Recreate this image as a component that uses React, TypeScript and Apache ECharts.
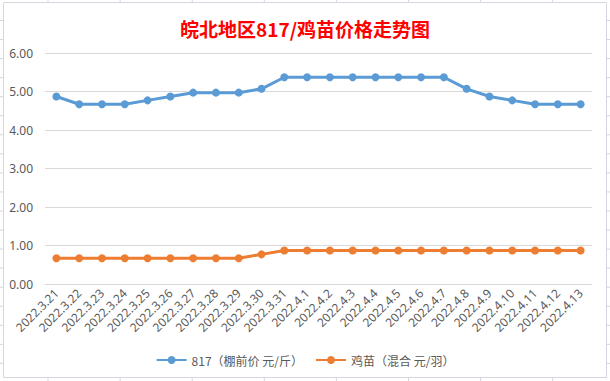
import React, { useEffect, useRef } from "react";
import * as echarts from "echarts";

const categories = [
  "2022.3.21", "2022.3.22", "2022.3.23", "2022.3.24", "2022.3.25", "2022.3.26",
  "2022.3.27", "2022.3.28", "2022.3.29", "2022.3.30", "2022.3.31", "2022.4.1",
  "2022.4.2", "2022.4.3", "2022.4.4", "2022.4.5", "2022.4.6", "2022.4.7",
  "2022.4.8", "2022.4.9", "2022.4.10", "2022.4.11", "2022.4.12", "2022.4.13",
];
const price817 = [
  4.87, 4.67, 4.67, 4.67, 4.77, 4.87, 4.97, 4.97, 4.97, 5.07, 5.37, 5.37,
  5.37, 5.37, 5.37, 5.37, 5.37, 5.37, 5.07, 4.87, 4.77, 4.67, 4.67, 4.67,
];
const chickPrice = [
  0.67, 0.67, 0.67, 0.67, 0.67, 0.67, 0.67, 0.67, 0.67, 0.77, 0.87, 0.87,
  0.87, 0.87, 0.87, 0.87, 0.87, 0.87, 0.87, 0.87, 0.87, 0.87, 0.87, 0.87,
];
const seriesNames = ["817（棚前价 元/斤）", "鸡苗（混合 元/羽）"];
const titleText = "皖北地区817/鸡苗价格走势图";

const W = 610;
const H = 381;

export default function App() {
  const ref = useRef<HTMLDivElement>(null);
  useEffect(() => {
    if (!ref.current) return;
    const chart = echarts.init(ref.current, undefined, { renderer: "svg" });
    const sheetColor = "#d6d6e0";
    const deco: any[] = [];
    // spreadsheet grid stubs outside the chart frame
    for (let k = 0; k < 20; k++) {
      const y = 20.5 + 19.05 * k;
      deco.push({ type: "line", shape: { x1: 0, y1: y, x2: 3, y2: y }, style: { stroke: sheetColor, lineWidth: 1 }, silent: true });
      deco.push({ type: "line", shape: { x1: 607, y1: y, x2: 610, y2: y }, style: { stroke: sheetColor, lineWidth: 1 }, silent: true });
    }
    for (let k = 0; k < 9; k++) {
      const x = 48 + 72.1 * k;
      deco.push({ type: "line", shape: { x1: x, y1: 0, x2: x, y2: 2 }, style: { stroke: sheetColor, lineWidth: 1 }, silent: true });
      deco.push({ type: "line", shape: { x1: x, y1: 378, x2: x, y2: 381 }, style: { stroke: sheetColor, lineWidth: 1 }, silent: true });
    }
    deco.push({
      type: "rect",
      shape: { x: 3.5, y: 2.5, width: 603, height: 375 },
      style: { fill: "none", stroke: sheetColor, lineWidth: 1 },
      silent: true,
      z: -1,
    });

    const option: any = {
      animation: false,
      backgroundColor: "#ffffff",
      title: {
        text: titleText,
        left: "center",
        top: 14,
        textStyle: {
          color: "#ff0000",
          fontSize: 19,
          fontWeight: "bold",
          fontFamily: "Noto Sans CJK SC",
        },
      },
      graphic: deco,
      grid: { left: 45, right: 18, top: 53, bottom: 97 },
      legend: {
        bottom: 10,
        left: "center",
        itemWidth: 30,
        itemHeight: 10,
        itemGap: 12,
        textStyle: { color: "#595959", fontSize: 12, fontFamily: "Noto Sans CJK SC" },
        data: seriesNames,
      },
      xAxis: {
        type: "category",
        data: categories,
        boundaryGap: true,
        axisLine: { show: true, lineStyle: { color: "#d9d9d9", width: 1 } },
        axisTick: { show: false },
        axisLabel: {
          interval: 0,
          rotate: 45,
          margin: 7,
          color: "#595959",
          fontSize: 12,
          fontFamily: "Noto Sans",
        },
      },
      yAxis: {
        type: "value",
        min: 0,
        max: 6,
        interval: 1,
        axisLine: { show: false },
        axisTick: { show: false },
        splitLine: { lineStyle: { color: "#d9d9d9", width: 1 } },
        axisLabel: {
          margin: 12,
          color: "#595959",
          fontSize: 12,
          fontFamily: "Noto Sans",
          formatter: (v: number) => v.toFixed(2),
        },
      },
      series: [
        {
          name: seriesNames[0],
          type: "line",
          data: price817,
          symbol: "circle",
          symbolSize: 8,
          lineStyle: { color: "#5b9bd5", width: 3 },
          itemStyle: { color: "#5b9bd5" },
        },
        {
          name: seriesNames[1],
          type: "line",
          data: chickPrice,
          symbol: "circle",
          symbolSize: 8,
          lineStyle: { color: "#ed7d31", width: 3 },
          itemStyle: { color: "#ed7d31" },
        },
      ],
    };
    chart.setOption(option);
    return () => chart.dispose();
  }, []);
  return (
    <div
      ref={ref}
      style={{ position: "fixed", left: 0, top: 0, width: W, height: H }}
    />
  );
}
